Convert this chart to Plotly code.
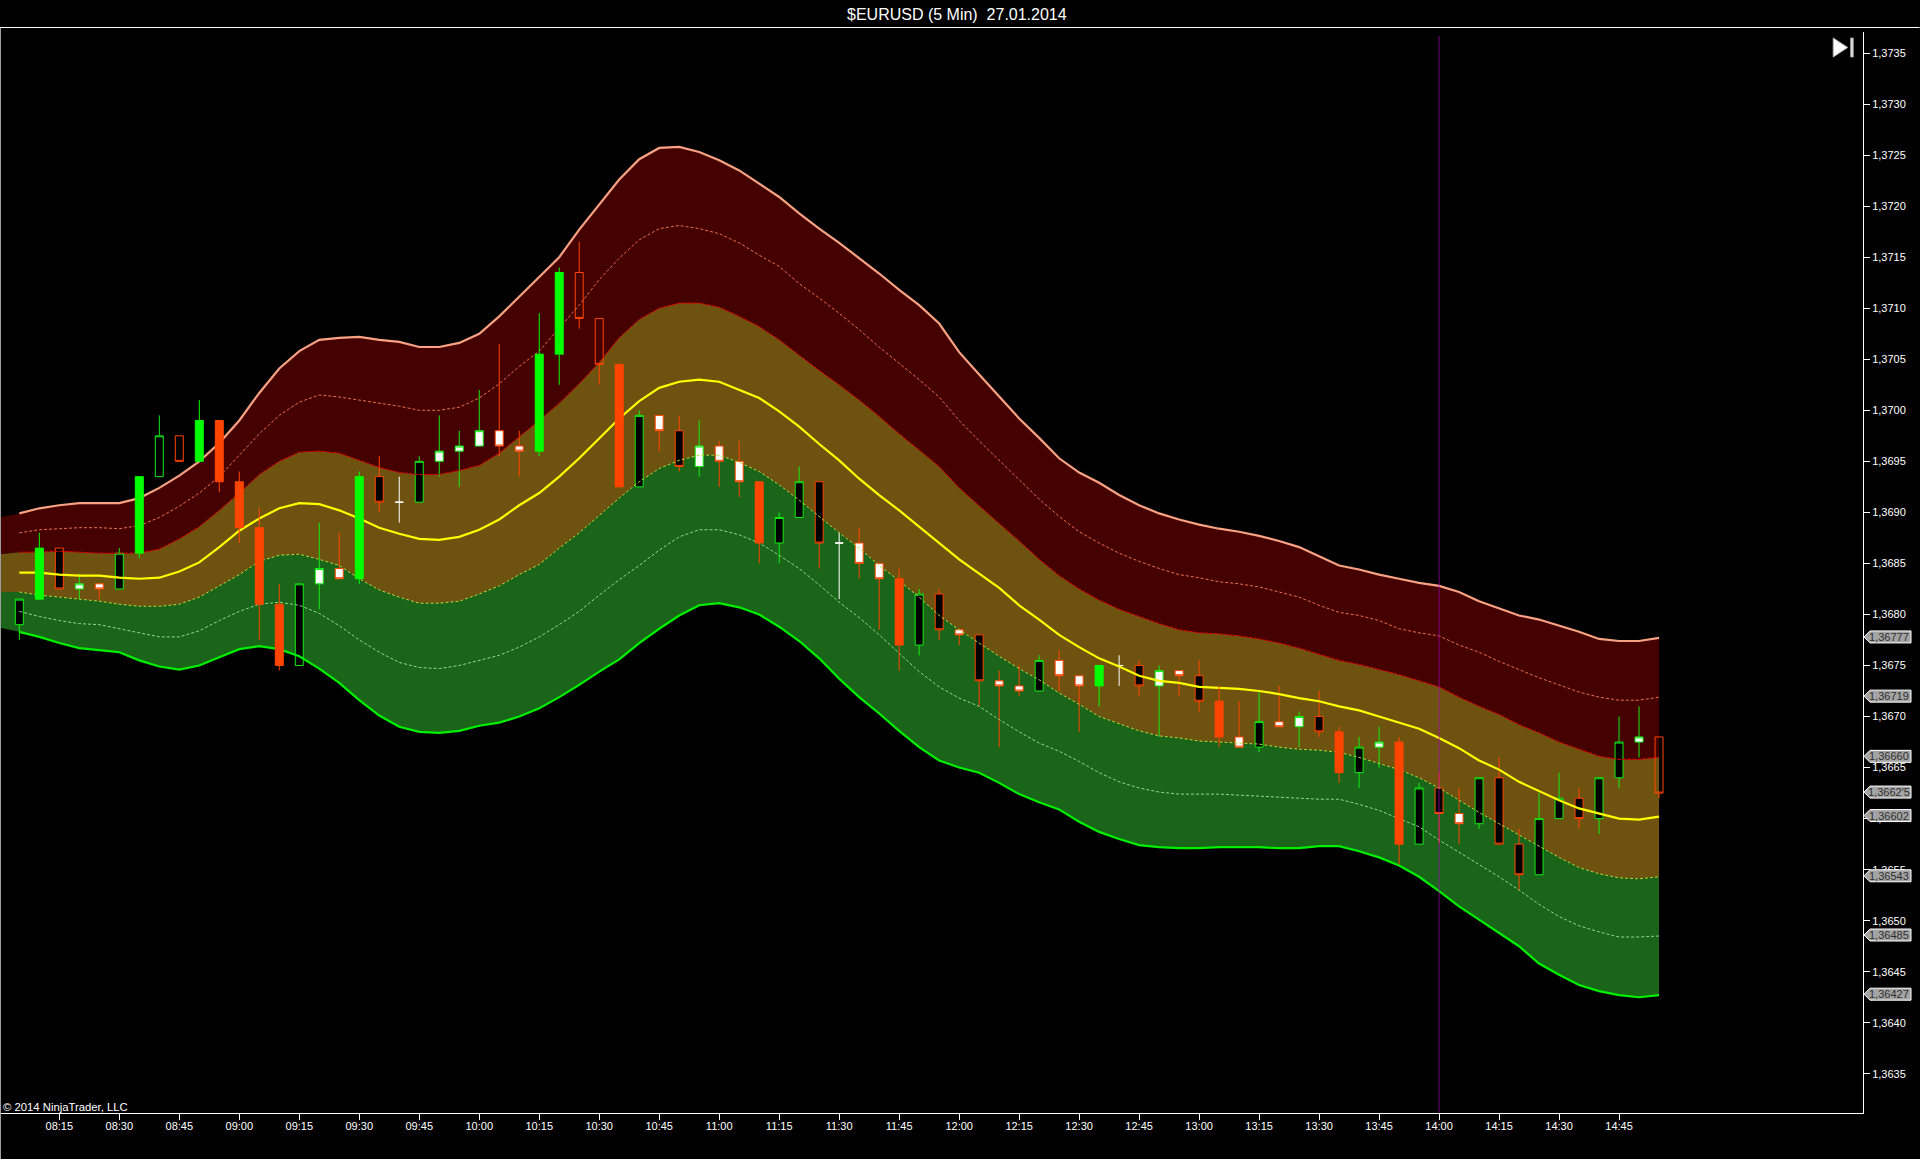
import pandas as pd
import plotly.graph_objects as go

times = pd.date_range("2014-01-27 08:05", periods=83, freq="5min")

opens = [1.36790,1.36815,1.36865,1.36825,1.36830,1.36825,1.36860,1.36935,1.36975,1.36950,
         1.36990,1.36930,1.36885,1.36810,1.36750,1.36830,1.36845,1.36835,1.36935,1.36910,
         1.36910,1.36950,1.36960,1.36965,1.36980,1.36965,1.36960,1.37055,1.37135,1.37090,
         1.37045,1.36925,1.36995,1.36980,1.36945,1.36965,1.36950,1.36930,1.36870,1.36895,
         1.36930,1.36870,1.36870,1.36850,1.36835,1.36770,1.36820,1.36785,1.36780,1.36735,
         1.36730,1.36725,1.36755,1.36740,1.36730,1.36750,1.36750,1.36730,1.36745,1.36740,
         1.36715,1.36680,1.36670,1.36695,1.36690,1.36700,1.36685,1.36645,1.36670,1.36675,
         1.36575,1.36630,1.36605,1.36595,1.36640,1.36575,1.36545,1.36600,1.36620,1.36600,
         1.36640,1.36675,1.36680]
highs = [1.36815,1.36880,1.36865,1.36840,1.36830,1.36865,1.36935,1.36995,1.36975,1.37010,
         1.36990,1.36940,1.36905,1.36830,1.36830,1.36890,1.36880,1.36940,1.36955,1.36935,
         1.36955,1.36995,1.36980,1.37020,1.37065,1.36980,1.37095,1.37140,1.37165,1.37090,
         1.37045,1.37000,1.36995,1.36995,1.36990,1.36970,1.36970,1.36930,1.36900,1.36945,
         1.36930,1.36880,1.36885,1.36850,1.36845,1.36825,1.36825,1.36785,1.36780,1.36745,
         1.36750,1.36760,1.36765,1.36740,1.36750,1.36760,1.36755,1.36750,1.36745,1.36755,
         1.36730,1.36715,1.36725,1.36730,1.36705,1.36725,1.36690,1.36680,1.36690,1.36680,
         1.36635,1.36645,1.36630,1.36640,1.36660,1.36590,1.36625,1.36645,1.36630,1.36640,
         1.36700,1.36710,1.36680]
lows = [1.36775,1.36815,1.36825,1.36815,1.36815,1.36825,1.36855,1.36935,1.36950,1.36950,
        1.36920,1.36870,1.36775,1.36745,1.36750,1.36805,1.36835,1.36830,1.36900,1.36890,
        1.36910,1.36935,1.36925,1.36965,1.36955,1.36935,1.36955,1.37025,1.37080,1.37025,
        1.36925,1.36925,1.36960,1.36940,1.36935,1.36925,1.36915,1.36850,1.36850,1.36895,
        1.36845,1.36815,1.36835,1.36785,1.36745,1.36760,1.36775,1.36770,1.36710,1.36670,
        1.36720,1.36725,1.36725,1.36685,1.36710,1.36730,1.36720,1.36680,1.36720,1.36705,
        1.36670,1.36670,1.36665,1.36690,1.36670,1.36680,1.36635,1.36630,1.36650,1.36555,
        1.36575,1.36575,1.36575,1.36590,1.36575,1.36530,1.36545,1.36600,1.36590,1.36585,
        1.36630,1.36660,1.36620]
closes = [1.36815,1.36865,1.36825,1.36830,1.36825,1.36860,1.36935,1.36975,1.36950,1.36990,
          1.36930,1.36885,1.36810,1.36750,1.36830,1.36845,1.36835,1.36935,1.36910,1.36910,
          1.36950,1.36960,1.36965,1.36980,1.36965,1.36960,1.37055,1.37135,1.37090,1.37045,
          1.36925,1.36995,1.36980,1.36945,1.36965,1.36950,1.36930,1.36870,1.36895,1.36930,
          1.36870,1.36870,1.36850,1.36835,1.36770,1.36820,1.36785,1.36780,1.36735,1.36730,
          1.36725,1.36755,1.36740,1.36730,1.36750,1.36750,1.36730,1.36745,1.36740,1.36715,
          1.36680,1.36670,1.36695,1.36690,1.36700,1.36685,1.36645,1.36670,1.36675,1.36575,
          1.36630,1.36605,1.36595,1.36640,1.36575,1.36545,1.36600,1.36620,1.36600,1.36640,
          1.36675,1.36680,1.36625]
# g/o = up/down colour, b black, w white, s solid, h hollow, d doji
bar_styles = ["gb","gs","ob","gw","ow","gb","gs","gh","oh","gs",
              "os","os","os","os","gb","gw","ow","gs","ob","d",
              "gb","gw","gw","gw","ow","ow","gs","gs","oh","oh",
              "os","gb","ow","ob","gw","ow","ow","os","gb","gb",
              "ob","d","ow","ow","os","gb","ob","ow","ob","ow",
              "ow","gb","ow","ow","gs","d","ob","gw","ow","ob",
              "os","ow","gb","ow","gw","ob","os","gb","gw","os",
              "gb","ob","ow","gb","ob","ob","gb","gb","ob","gb",
              "gb","gw","oh"]

upper_outer = [1.36899,1.36904,1.36907,1.36909,1.36909,1.36909,1.36914,1.36924,1.36936,1.36950,
               1.36968,1.36990,1.37017,1.37041,1.37058,1.37069,1.37071,1.37072,1.37069,1.37067,
               1.37062,1.37062,1.37066,1.37075,1.37092,1.37111,1.37131,1.37150,1.37177,1.37201,
               1.37226,1.37246,1.37257,1.37258,1.37253,1.37245,1.37235,1.37222,1.37209,1.37193,
               1.37178,1.37164,1.37149,1.37134,1.37118,1.37103,1.37085,1.37057,1.37035,1.37013,
               1.36992,1.36973,1.36953,1.36939,1.36929,1.36917,1.36907,1.36899,1.36893,1.36888,
               1.36884,1.36881,1.36877,1.36872,1.36866,1.36857,1.36848,1.36844,1.36839,1.36835,
               1.36831,1.36828,1.36822,1.36813,1.36806,1.36799,1.36795,1.36789,1.36783,1.36776,
               1.36774,1.36774,1.36777]
upper_mid = [1.36880,1.36883,1.36884,1.36885,1.36885,1.36884,1.36887,1.36895,1.36906,1.36919,
             1.36935,1.36956,1.36977,1.36995,1.37008,1.37015,1.37013,1.37010,1.37007,1.37004,
             1.37000,1.37000,1.37003,1.37012,1.37026,1.37043,1.37058,1.37080,1.37103,1.37128,
             1.37149,1.37167,1.37178,1.37181,1.37178,1.37173,1.37164,1.37152,1.37141,1.37124,
             1.37110,1.37095,1.37079,1.37062,1.37046,1.37030,1.37013,1.36990,1.36970,1.36951,
             1.36931,1.36913,1.36896,1.36881,1.36870,1.36860,1.36852,1.36845,1.36839,1.36836,
             1.36832,1.36830,1.36827,1.36822,1.36817,1.36809,1.36802,1.36799,1.36794,1.36786,
             1.36782,1.36779,1.36770,1.36763,1.36754,1.36746,1.36738,1.36731,1.36724,1.36719,
             1.36716,1.36716,1.36719]
upper_inner = [1.36861,1.36861,1.36862,1.36861,1.36860,1.36860,1.36860,1.36864,1.36874,1.36886,
               1.36902,1.36919,1.36937,1.36950,1.36959,1.36960,1.36958,1.36951,1.36944,1.36939,
               1.36937,1.36937,1.36941,1.36946,1.36958,1.36974,1.36990,1.37007,1.37026,1.37047,
               1.37071,1.37089,1.37100,1.37105,1.37105,1.37101,1.37092,1.37082,1.37069,1.37054,
               1.37039,1.37025,1.37010,1.36994,1.36977,1.36961,1.36945,1.36924,1.36906,1.36889,
               1.36872,1.36854,1.36838,1.36825,1.36814,1.36805,1.36798,1.36791,1.36785,1.36782,
               1.36781,1.36779,1.36776,1.36772,1.36767,1.36761,1.36755,1.36751,1.36746,1.36741,
               1.36735,1.36729,1.36719,1.36710,1.36702,1.36692,1.36684,1.36675,1.36668,1.36661,
               1.36658,1.36658,1.36660]
center = [1.36841,1.36841,1.36839,1.36838,1.36838,1.36836,1.36835,1.36836,1.36842,1.36851,
          1.36866,1.36882,1.36894,1.36904,1.36909,1.36908,1.36902,1.36894,1.36885,1.36879,
          1.36874,1.36873,1.36876,1.36883,1.36893,1.36907,1.36919,1.36935,1.36953,1.36973,
          1.36992,1.37009,1.37022,1.37028,1.37030,1.37028,1.37020,1.37012,1.36999,1.36984,
          1.36967,1.36951,1.36933,1.36917,1.36902,1.36886,1.36870,1.36854,1.36840,1.36826,
          1.36809,1.36795,1.36780,1.36768,1.36757,1.36749,1.36740,1.36735,1.36733,1.36729,
          1.36728,1.36727,1.36725,1.36722,1.36718,1.36715,1.36710,1.36706,1.36700,1.36694,
          1.36688,1.36679,1.36669,1.36657,1.36648,1.36636,1.36627,1.36618,1.36610,1.36605,
          1.36600,1.36599,1.36602]
lower_inner = [1.36822,1.36819,1.36817,1.36815,1.36813,1.36810,1.36808,1.36808,1.36810,1.36817,
               1.36828,1.36839,1.36852,1.36858,1.36859,1.36854,1.36848,1.36835,1.36824,1.36817,
               1.36811,1.36811,1.36813,1.36820,1.36828,1.36839,1.36849,1.36865,1.36880,1.36897,
               1.36914,1.36930,1.36943,1.36951,1.36956,1.36956,1.36949,1.36940,1.36927,1.36912,
               1.36896,1.36880,1.36865,1.36848,1.36833,1.36817,1.36799,1.36785,1.36772,1.36759,
               1.36747,1.36736,1.36723,1.36712,1.36700,1.36693,1.36686,1.36681,1.36679,1.36676,
               1.36675,1.36674,1.36673,1.36670,1.36668,1.36667,1.36665,1.36660,1.36654,1.36648,
               1.36640,1.36630,1.36618,1.36606,1.36595,1.36584,1.36573,1.36562,1.36552,1.36546,
               1.36542,1.36541,1.36543]
lower_mid = [1.36803,1.36798,1.36794,1.36791,1.36790,1.36786,1.36782,1.36778,1.36778,1.36784,
             1.36794,1.36803,1.36810,1.36812,1.36809,1.36801,1.36789,1.36775,1.36763,1.36753,
             1.36748,1.36747,1.36750,1.36755,1.36760,1.36768,1.36778,1.36790,1.36803,1.36819,
             1.36834,1.36848,1.36863,1.36876,1.36883,1.36883,1.36878,1.36870,1.36858,1.36845,
             1.36829,1.36812,1.36797,1.36780,1.36762,1.36744,1.36729,1.36718,1.36710,1.36697,
             1.36685,1.36674,1.36666,1.36656,1.36645,1.36636,1.36630,1.36626,1.36624,1.36624,
             1.36624,1.36623,1.36622,1.36621,1.36620,1.36619,1.36619,1.36614,1.36608,1.36600,
             1.36592,1.36579,1.36567,1.36555,1.36543,1.36530,1.36516,1.36504,1.36495,1.36489,
             1.36484,1.36484,1.36485]
lower_outer = [1.36783,1.36778,1.36772,1.36767,1.36765,1.36763,1.36755,1.36749,1.36746,1.36750,
               1.36758,1.36766,1.36769,1.36766,1.36759,1.36747,1.36733,1.36716,1.36701,1.36690,
               1.36685,1.36684,1.36686,1.36691,1.36694,1.36700,1.36708,1.36719,1.36731,1.36744,
               1.36756,1.36772,1.36786,1.36799,1.36809,1.36811,1.36807,1.36800,1.36788,1.36774,
               1.36757,1.36737,1.36719,1.36703,1.36686,1.36670,1.36657,1.36650,1.36645,1.36635,
               1.36624,1.36616,1.36609,1.36597,1.36587,1.36580,1.36574,1.36572,1.36571,1.36571,
               1.36572,1.36572,1.36572,1.36571,1.36571,1.36573,1.36573,1.36568,1.36562,1.36554,
               1.36543,1.36529,1.36514,1.36501,1.36488,1.36475,1.36458,1.36447,1.36437,1.36431,
               1.36427,1.36425,1.36427]

# the shaded bands start one bar earlier than the lines, off the left edge
prev_time = "2014-01-27 08:00"
prev_upper_outer = 1.36895
prev_upper_inner = 1.36859
prev_lower_inner = 1.36822
prev_lower_outer = 1.36787

tick_times = pd.date_range("2014-01-27 08:15", "2014-01-27 14:45", freq="15min")
y_ticks = [1.3635,1.3640,1.3645,1.3650,1.3655,1.3660,1.3665,1.3670,1.3675,1.3680,
           1.3685,1.3690,1.3695,1.3700,1.3705,1.3710,1.3715,1.3720,1.3725,1.3730,1.3735]
tag_values = [1.36777,1.36719,1.36660,1.36625,1.36602,1.36543,1.36485,1.36427]
tag_labels = ["1,36777","1,36719","1,36660","1,3662'5","1,36602","1,36543","1,36485","1,36427"]
marker_time = "2014-01-27 14:00"

PLOT_W = 1863.3
PLOT_T = 32
PLOT_B = 1113
FONT = "Liberation Sans"
X_RANGE = ["2014-01-27 08:00:10", "2014-01-27 15:46:00"]
Y_RANGE = [1.363116, 1.373706]


def px(x):
    return x / PLOT_W


def py(y):
    return (PLOT_B - y) / (PLOT_B - PLOT_T)


fig = go.Figure()

fill_x = [pd.Timestamp(prev_time)] + list(times)
fills = [([prev_upper_outer] + upper_outer, None, None),
         ([prev_upper_inner] + upper_inner, "tonexty", "#450000"),
         ([prev_lower_inner] + lower_inner, "tonexty", "#6E5310"),
         ([prev_lower_outer] + lower_outer, "tonexty", "#1A651A")]
for vals, fill, color in fills:
    fig.add_trace(go.Scatter(x=fill_x, y=vals, mode="lines", line=dict(width=0),
                             fill=fill, fillcolor=color, hoverinfo="skip"))

GREEN = "#14EC14"
ORANGE = "#FF4500"
candle_looks = {
    "gb": (GREEN, "#000000"),
    "gw": (GREEN, "#FFFFFF"),
    "gh": (GREEN, "rgba(0,0,0,0)"),
    "ob": (ORANGE, "#000000"),
    "ow": (ORANGE, "#FFFFFF"),
    "oh": (ORANGE, "rgba(0,0,0,0)"),
    "d": ("#FFFFFF", "#FFFFFF"),
    "gs": ("#00FF00", "#00FF00"),
    "os": (ORANGE, ORANGE),
}


def add_candles(style, xaxis, yaxis):
    idx = [i for i, s in enumerate(bar_styles) if s == style]
    line_color, fill_color = candle_looks[style]
    look = dict(line=dict(color=line_color, width=1), fillcolor=fill_color)
    fig.add_trace(go.Candlestick(x=[times[i] for i in idx],
                                 open=[opens[i] for i in idx],
                                 high=[highs[i] for i in idx],
                                 low=[lows[i] for i in idx],
                                 close=[closes[i] for i in idx],
                                 increasing=look, decreasing=look,
                                 xaxis=xaxis, yaxis=yaxis))


# overlaid axes keep the stacking: bands, candles, band lines, solid candles
for style in ["gb", "gw", "gh", "ob", "ow", "oh", "d"]:
    add_candles(style, "x2", "y2")

lines = [(upper_outer, "#F8A283", 2.2, None),
         (upper_mid, "#E8704C", 1, "3px,2px"),
         (upper_inner, "#E00000", 1, "4px,1px"),
         (center, "#FFFF00", 2.2, None),
         (lower_inner, "#B4DC3C", 1, "3px,2px"),
         (lower_mid, "#8CD98C", 1, "3px,2px"),
         (lower_outer, "#00F000", 2.2, None)]
for vals, color, width, dash in lines:
    fig.add_trace(go.Scatter(x=times, y=vals, mode="lines", xaxis="x3", yaxis="y3",
                             line=dict(color=color, width=width, dash=dash)))

for style in ["gs", "os"]:
    add_candles(style, "x4", "y4")

shapes = [
    dict(type="line", xref="x", yref="paper", x0=marker_time, x1=marker_time,
         y0=py(36), y1=0, line=dict(color="rgba(170,0,190,0.45)", width=1.5)),
    dict(type="line", xref="paper", yref="paper", x0=0, x1=px(1920), y0=py(27.5), y1=py(27.5),
         line=dict(color="#FFFFFF", width=1)),
    dict(type="line", xref="paper", yref="paper", x0=px(0.5), x1=px(0.5), y0=py(27.5), y1=py(1159),
         line=dict(color="#A0A0A0", width=1)),
    dict(type="path", xref="paper", yref="paper", fillcolor="#FFFFFF", line=dict(color="#B0B0B0", width=1),
         path=f"M {px(1833.5)},{py(38)} L {px(1848)},{py(47.5)} L {px(1833.5)},{py(57)} Z"),
    dict(type="rect", xref="paper", yref="paper", x0=px(1851), x1=px(1853.5), y0=py(38), y1=py(57),
         fillcolor="#E8E8E8", line=dict(color="#A0A0A0", width=1)),
]
annotations = [
    dict(text="$EURUSD (5 Min)\u00a0\u00a027.01.2014", xref="paper", yref="paper", x=px(957), y=py(14),
         showarrow=False, xanchor="center", yanchor="middle", font=dict(family=FONT, size=16, color="#FFFFFF")),
    dict(text="© 2014 NinjaTrader, LLC", xref="paper", yref="paper", x=px(1), y=py(1107),
         showarrow=False, xanchor="left", yanchor="middle", font=dict(family=FONT, size=11.3, color="#FFFFFF")),
]
for val, label in zip(tag_values, tag_labels):
    shapes.append(dict(type="path", xref="paper", yref="y", xsizemode="pixel", ysizemode="pixel",
                       xanchor=1.0, yanchor=val, path="M 1,1 L 7,7 L 48,7 L 48,-5 L 7,-5 Z",
                       fillcolor="#A4A4A4", line=dict(color="#FFFFFF", width=1)))
    annotations.append(dict(text=label, xref="paper", yref="y", x=px(1889), y=val, yshift=1,
                            showarrow=False, xanchor="center", yanchor="middle",
                            font=dict(family=FONT, size=11, color="#303030")))

fig.update_layout(
    width=1920, height=1159,
    margin=dict(l=0, r=1920 - PLOT_W, t=PLOT_T, b=1159 - PLOT_B, pad=0),
    paper_bgcolor="#000000", plot_bgcolor="#000000",
    showlegend=False, separators=",.",
    boxgap=0.43,
    shapes=shapes, annotations=annotations,
    xaxis=dict(type="date", range=X_RANGE,
               rangeslider_visible=False, showgrid=False, zeroline=False,
               showline=True, linecolor="#FFFFFF", linewidth=1,
               ticks="outside", ticklen=6, tickcolor="#FFFFFF", tickwidth=1,
               tickmode="array", tickvals=list(tick_times), ticktext=[t.strftime("%H:%M") for t in tick_times],
               ticklabelstandoff=-3,
               tickfont=dict(family=FONT, size=11, color="#FFFFFF")),
    yaxis=dict(side="right", range=Y_RANGE, showgrid=False, zeroline=False,
               showline=True, linecolor="#FFFFFF", linewidth=1,
               ticks="outside", ticklen=6, tickcolor="#FFFFFF", tickwidth=1,
               tickmode="array", tickvals=y_ticks, tickformat=".4f",
               tickfont=dict(family=FONT, size=11, color="#FFFFFF")),
)
for n in ["2", "3", "4"]:
    fig.update_layout({
        "xaxis" + n: dict(type="date", range=X_RANGE, overlaying="x", visible=False, rangeslider_visible=False),
        "yaxis" + n: dict(range=Y_RANGE, overlaying="y", visible=False),
    })

fig.write_html("out.html", config=dict(displayModeBar=False),
               post_script="document.body.style.margin='0';document.body.style.overflow='hidden';")
